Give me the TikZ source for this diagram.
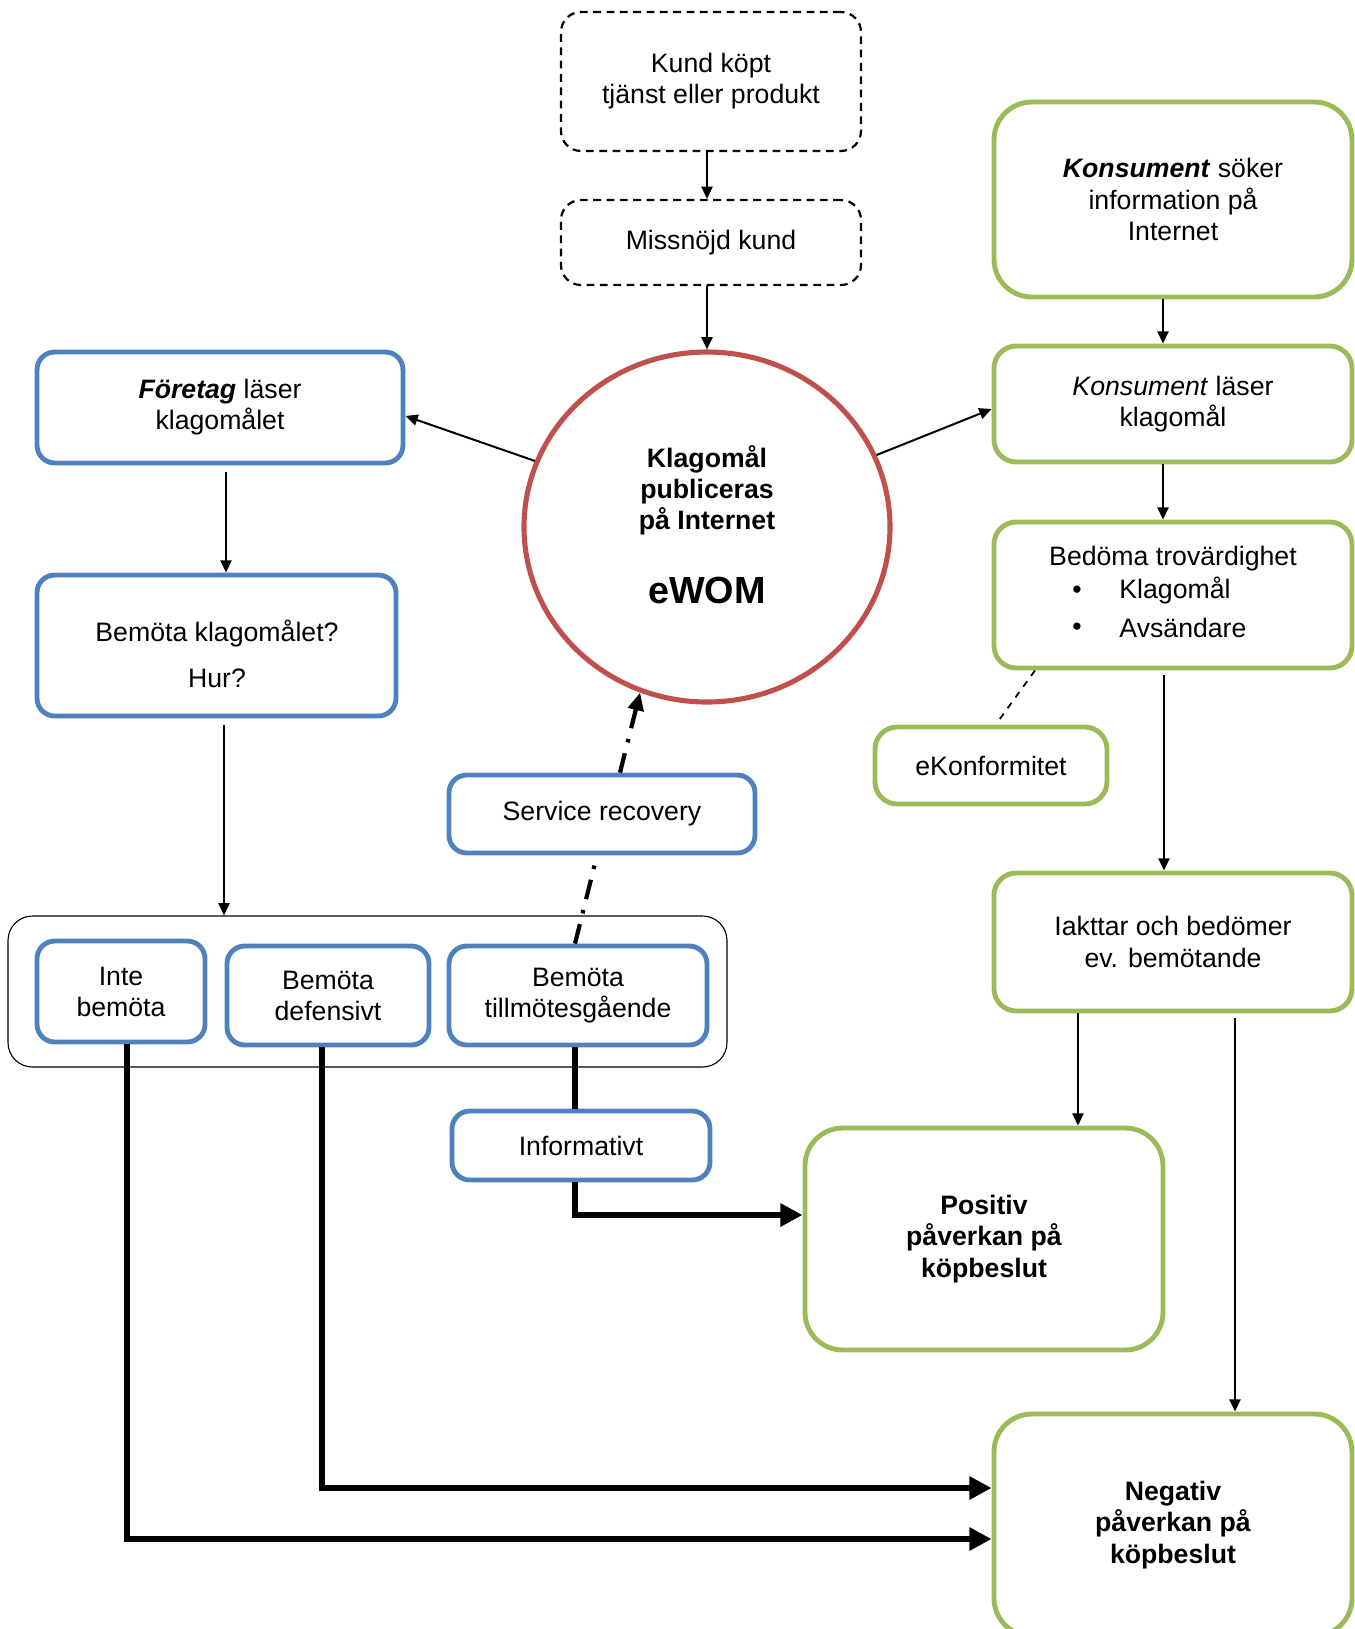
\documentclass[tikz,border=0pt]{standalone}
\usepackage{fontspec}
\setmainfont{Liberation Sans}
\usetikzlibrary{arrows.meta,shapes.geometric}
\definecolor{myblue}{HTML}{4F81BD}
\definecolor{mygreen}{HTML}{9BBB59}
\definecolor{myred}{HTML}{C0504D}
\newcommand\myfs{\fontsize{12}{14}\selectfont}
% box from corner (x1,y1) to (x2,y2) in pixel units
\newcommand\mybx[7]{\node[#1, minimum width={(#5-#3)*0.45pt}, minimum height={(#6-#4)*0.45pt}] (#2) at ({(#3+#5)/2},{(#4+#6)/2}) {#7};}
\tikzset{
  base/.style={inner sep=0pt, align=center, font=\myfs},
  blbox/.style={base, draw=myblue, line width=2.2pt, rounded corners=8pt},
  grbox/.style={base, draw=mygreen, line width=2.2pt, rounded corners=10pt},
  grbig/.style={grbox, rounded corners=17pt},
  dbox/.style={base, draw=black, line width=1pt, dash pattern=on 3.5pt off 2.5pt, rounded corners=9pt},
  grpbox/.style={base, draw=black, line width=0.5pt, rounded corners=11pt},
  arr/.style={line width=0.9pt, -{Triangle[length=5.5pt,width=5pt]}},
  thickln/.style={line width=2.8pt},
  thickarr/.style={thickln, -{Triangle[length=10pt,width=10pt]}},
  dd/.style={line width=1.9pt, dash pattern=on 9pt off 5pt on 1.6pt off 5pt},
  dsh/.style={line width=0.8pt, dash pattern=on 3pt off 3pt},
  txt/.style={inner sep=0pt, align=center, font=\myfs}
}
\begin{document}
\begin{tikzpicture}[x=0.45pt,y=-0.45pt]
\useasboundingbox (0,0) rectangle (1355,1629);
% helper coordinates
\coordinate (x127) at (127,0);
\coordinate (x322) at (322,0);
\coordinate (x575) at (575,0);
\coordinate (x597) at (597,0);
\coordinate (x620) at (620,0);
\coordinate (x226) at (226,0);
\coordinate (x224) at (224,0);
\coordinate (x707) at (707,0);
\coordinate (x1163) at (1163,0);
\coordinate (x1164) at (1164,0);
\coordinate (x1078) at (1078,0);
\coordinate (x1235) at (1235,0);
\coordinate (x1035) at (1035,0);
\coordinate (x999) at (999,0);
\coordinate (y1539) at (0,1539);
\coordinate (y1488) at (0,1488);
\coordinate (y1215) at (0,1215);
\coordinate (y416) at (0,416);
\coordinate (y409) at (0,409);

% top dashed boxes
\mybx{dbox}{kund}{561}{12}{861}{151}{Kund köpt\\tjänst eller produkt}
\mybx{dbox}{miss}{561}{200}{861}{285}{Missnöjd kund}

% central ellipse
\node[ellipse, draw=myred, line width=2.3pt, minimum width=366*0.45pt, minimum height=350*0.45pt, inner sep=0pt] (ew) at (707,527) {};
\node[txt, font=\myfs\bfseries] (ewt) at (707,490) {Klagomål\\publiceras\\på Internet};
\node[txt, font=\fontsize{17}{20}\selectfont\bfseries] (ewom) at (707,590) {eWOM};

% blue boxes
\mybx{blbox}{foretag}{37}{352}{403}{463}{\textbf{\textit{Företag}} läser\\klagomålet}
\mybx{blbox}{bemota}{37}{575}{396}{716}{}
\node[txt] (bemotat) at (217,654) {Bemöta klagomålet?\\[7pt]Hur?};
\mybx{blbox}{sr}{449}{775}{755}{853}{Service recovery}
\mybx{grpbox}{grp}{8}{916}{727}{1067}{}
\mybx{blbox}{inte}{37}{941}{205}{1042}{Inte\\bemöta}
\mybx{blbox}{def}{227}{946}{429}{1045}{Bemöta\\defensivt}
\mybx{blbox}{till}{449}{946}{707}{1045}{Bemöta\\tillmötesgående}
\mybx{blbox}{info}{452}{1111}{710}{1180}{Informativt}

% green boxes
\mybx{grbig}{ks}{994}{102}{1352}{297}{\textbf{\textit{Konsument}} söker\\information på\\Internet}
\mybx{grbox}{kl}{994}{346}{1352}{462}{\textit{Konsument} läser\\klagomål}
\mybx{grbox}{bed}{994}{522}{1352}{668}{}
\node[txt] (bedt) at (1173,559) {Bedöma trovärdighet};
\node[txt] (b1) at (1077,592) {•};
\node[txt, anchor=west] (b1t) at (1119,591) {Klagomål};
\node[txt] (b2) at (1077,629) {•};
\node[txt, anchor=west] (b2t) at (1119,628) {Avsändare};
\mybx{grbox}{ek}{875}{727}{1107}{804}{eKonformitet}
\mybx{grbox}{iak}{994}{873}{1352}{1011}{Iakttar och bedömer\\ev. bemötande}
\mybx{grbig, font=\myfs\bfseries}{pos}{805}{1128}{1163}{1350}{Positiv\\påverkan på\\köpbeslut}
\mybx{grbig, font=\myfs\bfseries}{neg}{994}{1414}{1352}{1636}{Negativ\\påverkan på\\köpbeslut}

% thin arrows
\draw[arr] (kund.south -| x707) -- (miss.north -| x707);
\draw[arr] (miss.south -| x707) -- (ew.north);
\draw[arr] (ew.159.5) -- (foretag.east |- y416);
\draw[arr] (ew.23.6) -- (kl.west |- y409);
\draw[arr] (ks.south -| x1163) -- (kl.north -| x1163);
\draw[arr] (kl.south -| x1163) -- (bed.north -| x1163);
\draw[arr] ([yshift=-2pt]bed.south -| x1164) -- (iak.north -| x1164);
\draw[dsh] (bed.south -| x1035) -- ([yshift=2pt]ek.north -| x999);
\draw[arr] (iak.south -| x1078) -- (pos.north -| x1078);
\draw[arr] ([yshift=-2pt]iak.south -| x1235) -- (neg.north -| x1235);
\draw[arr] ([yshift=-3pt]foretag.south -| x226) -- (bemota.north -| x226);
\draw[arr] ([yshift=-3pt]bemota.south -| x224) -- (grp.north -| x224);

% dash-dot connectors
\draw[dd] (till.north -| x575) -- (sr.south -| x597);
\draw[dd, -{Triangle[length=8pt,width=7pt]}] (sr.north -| x620) -- (ew.248);

% thick connectors
\draw[thickarr] (inte.south -| x127) -- (x127 |- y1539) -- (neg.west |- y1539);
\draw[thickarr] (def.south -| x322) -- (x322 |- y1488) -- (neg.west |- y1488);
\draw[thickln] (till.south -| x575) -- (info.north -| x575);
\draw[thickarr] (info.south -| x575) -- (x575 |- y1215) -- (pos.west |- y1215);
\end{tikzpicture}
\end{document}
